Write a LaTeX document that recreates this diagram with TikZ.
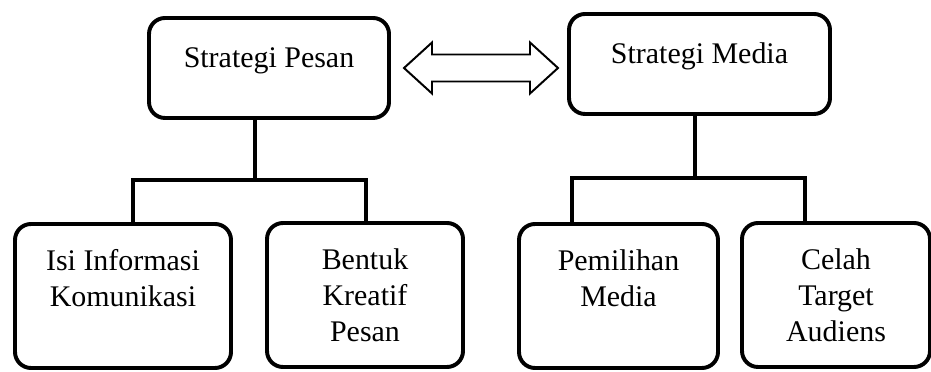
\documentclass[tikz,border=0pt]{standalone}
\usepackage{fontspec}
\setmainfont{Liberation Serif}

\begin{document}
\begin{tikzpicture}[every node/.style={font=\fontsize{21.3}{25.6}\selectfont}, box/.style={draw, line width=2.8pt, rounded corners=0.4cm, inner sep=0pt, align=center}, top/.style={box, minimum height=2.5cm, text height=14.5pt, text depth=15.5pt}, sub/.style={box, minimum height=3.6cm}, link/.style={line width=2.6pt}]
	\useasboundingbox (0,0) rectangle (23.275,9.3);
	\node[top, minimum width=6cm] (SP) at (6.725,7.6) {Strategi Pesan};
	\node[top, minimum width=6.525cm] (SM) at (17.4875,7.7) {Strategi Media};
	\node[sub, minimum width=5.4cm] (Isi) at (3.075,1.9) {Isi Informasi\\Komunikasi\\~};
	\node[sub, minimum width=4.9cm] (Bentuk) at (9.125,1.925) {Bentuk\\Kreatif\\Pesan};
	\node[sub, minimum width=4.975cm] (Pilih) at (15.4625,1.9) {Pemilihan\\Media\\~};
	\node[sub, minimum width=4.7cm] (Celah) at (20.9,1.925) {Celah\\Target\\Audiens};
	% two-way arrow between the two strategies
	\coordinate (arr) at (12.025,7.6);
	\draw[line width=1.4pt] (arr) ++(-1.925,0) -- ++(0.7,0.6375) -- ++(0,-0.3) -- ++(2.45,0) -- ++(0,0.3) -- ++(0.7,-0.6375) -- ++(-0.7,-0.6375) -- ++(0,0.3) -- ++(-2.45,0) -- ++(0,-0.3) -- cycle;
	\coordinate (jP) at (6.375,4.8);
	\coordinate (jPa) at (3.325,4.8);
	\coordinate (jPb) at (9.15,4.8);
	\coordinate (jM) at (17.375,4.85);
	\coordinate (jMa) at (14.3,4.85);
	\coordinate (jMb) at (20.125,4.85);
	\draw[link] (SP.south -| jP) -- (jP);
	\draw[link] (Isi.north -| jPa) -- (jPa) -- (jPb) -- (Bentuk.north -| jPb);
	\draw[link] (SM.south -| jM) -- (jM);
	\draw[link] (Pilih.north -| jMa) -- (jMa) -- (jMb) -- (Celah.north -| jMb);
\end{tikzpicture}
\end{document}
